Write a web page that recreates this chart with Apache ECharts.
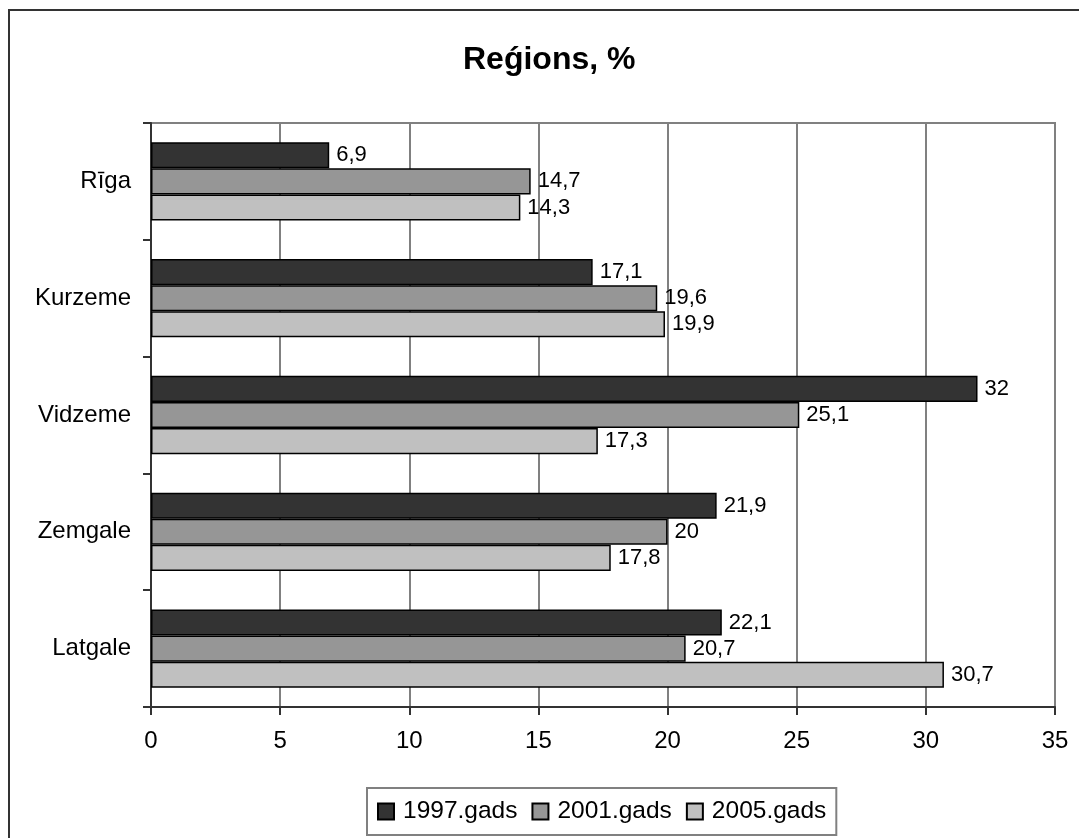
<!DOCTYPE html>
<html>
<head>
<meta charset="utf-8">
<script src="https://cdn.jsdelivr.net/npm/echarts@6/dist/echarts.min.js"></script>
<style>
html,body{margin:0;padding:0;background:#fff;}
#chart{width:1079px;height:838px;}
</style>
</head>
<body>
<div id="chart"></div>
<script>
const categories = ['Rīga', 'Kurzeme', 'Vidzeme', 'Zemgale', 'Latgale'];
const seriesNames = ['1997.gads', '2001.gads', '2005.gads'];
const values1997 = [6.9, 17.1, 32, 21.9, 22.1];
const values2001 = [14.7, 19.6, 25.1, 20, 20.7];
const values2005 = [14.3, 19.9, 17.3, 17.8, 30.7];
const xTicks = [0, 5, 10, 15, 20, 25, 30, 35];
const colors = ['#333333', '#969696', '#c0c0c0'];

const FONT = '"Liberation Sans", Arial, sans-serif';
const chart = echarts.init(document.getElementById('chart'));

const allValues = [values1997, values2001, values2005];
const series = allValues.map((vals, i) => ({
  name: seriesNames[i],
  type: 'bar',
  data: vals,
  barGap: '0%',
  barCategoryGap: '33%',
  itemStyle: { color: colors[i], borderColor: '#000', borderWidth: 1.5 },
  label: {
    show: true,
    position: 'right',
    distance: 7,
    color: '#000',
    fontFamily: FONT,
    fontSize: 22,
    formatter: p => String(p.value).replace('.', ',')
  }
}));

chart.setOption({
  animation: false,
  backgroundColor: '#fff',
  title: {
    text: 'Reǵions, %',
    left: 458,
    top: 39,
    textStyle: { fontFamily: FONT, fontSize: 32, fontWeight: 'bold', color: '#000' }
  },
  graphic: [{
    type: 'rect',
    shape: { x: 9, y: 10, width: 1100, height: 900 },
    style: { fill: 'none', stroke: '#333', lineWidth: 2 },
    silent: true,
    z: 100
  }],
  grid: {
    left: 151, right: 24, top: 123, bottom: 131,
    show: true, borderColor: '#808080', borderWidth: 2, backgroundColor: 'transparent'
  },
  legend: {
    data: seriesNames,
    left: 367,
    top: 788,
    icon: 'rect',
    itemWidth: 16,
    itemHeight: 16,
    itemGap: 14,
    padding: [11, 10, 11, 10],
    borderColor: '#808080',
    borderWidth: 2,
    textStyle: { fontFamily: FONT, fontSize: 24.5, color: '#000', padding: [0, 0, 0, 4] }
  },
  xAxis: {
    type: 'value',
    min: xTicks[0],
    max: xTicks[xTicks.length - 1],
    interval: 5,
    axisLine: { show: true, lineStyle: { color: '#333', width: 2 } },
    axisTick: { show: true, length: 8, lineStyle: { color: '#333', width: 2 } },
    axisLabel: { fontFamily: FONT, fontSize: 24, color: '#000', margin: 22 },
    splitLine: { show: true, lineStyle: { color: '#808080', width: 2 } }
  },
  yAxis: {
    type: 'category',
    data: categories,
    inverse: true,
    axisLine: { show: true, lineStyle: { color: '#333', width: 2 } },
    axisTick: { show: true, length: 8, lineStyle: { color: '#333', width: 2 } },
    axisLabel: { fontFamily: FONT, fontSize: 24, color: '#000', margin: 20 }
  },
  series: series
});
</script>
</body>
</html>
